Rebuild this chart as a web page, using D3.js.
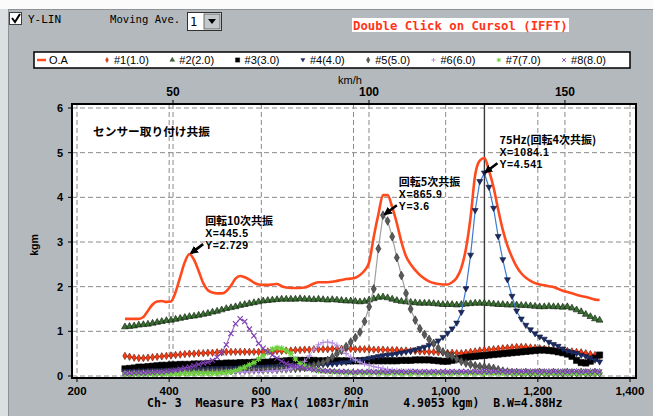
<!DOCTYPE html>
<html>
<head>
<meta charset="utf-8">
<script src="https://cdn.jsdelivr.net/npm/d3@7"></script>
<style>
body{margin:0;background:#b4b9bd;}
svg{display:block;}
text{font-family:"Liberation Sans",Arial,sans-serif;}
.jp{font-family:"Noto Sans CJK JP",sans-serif;font-weight:bold;}
.mono{font-family:"DejaVu Sans Mono",monospace;}
</style>
</head>
<body>
<svg id="chart" width="653" height="416"></svg>
<script>
const rpm = [
	304,314,324,334,344,354,364,374,384,394,
	404,414,424,434,444,454,464,474,484,494,
	504,514,524,534,544,554,564,574,584,594,
	604,614,624,634,644,654,664,674,684,694,
	704,714,724,734,744,754,764,774,784,794,
	804,814,824,834,844,854,864,874,884,894,
	904,914,924,934,944,954,964,974,984,994,
	1004,1014,1024,1034,1044,1054,1064,1074,1084,1094,
	1104,1114,1124,1134,1144,1154,1164,1174,1184,1194,
	1204,1214,1224,1234,1244,1254,1264,1274,1284,1294,
	1304,1314,1324,1334]

const oa = [
	1.28,1.28,1.28,1.28,1.32,1.46,1.60,1.67,1.68,1.66,
	1.67,1.88,2.22,2.55,2.73,2.60,2.35,2.08,1.92,1.87,
	1.85,1.85,1.90,2.02,2.18,2.24,2.21,2.16,2.09,2.05,
	2.04,2.04,2.05,2.06,2.01,1.98,1.97,1.97,1.97,1.98,
	2.02,2.07,2.10,2.10,2.10,2.11,2.13,2.15,2.17,2.18,
	2.20,2.26,2.36,2.55,3.12,3.62,4.05,4.05,3.78,3.42,
	3.00,2.68,2.50,2.37,2.26,2.18,2.12,2.08,2.06,2.05,
	2.05,2.10,2.20,2.42,2.85,3.55,4.50,4.82,4.88,4.60,
	4.22,3.72,3.27,2.92,2.66,2.45,2.30,2.20,2.13,2.08,
	2.05,2.03,2.01,1.99,1.95,1.91,1.88,1.85,1.82,1.79,
	1.77,1.74,1.71,1.70]

const ch1 = [
	0.45,0.43,0.41,0.40,0.40,0.41,0.42,0.43,0.44,0.45,
	0.46,0.47,0.48,0.49,0.50,0.50,0.51,0.51,0.52,0.52,
	0.53,0.53,0.54,0.54,0.54,0.54,0.54,0.54,0.54,0.54,
	0.54,0.55,0.55,0.56,0.56,0.57,0.57,0.58,0.58,0.59,
	0.59,0.60,0.60,0.60,0.60,0.61,0.61,0.61,0.61,0.61,
	0.60,0.60,0.60,0.60,0.59,0.59,0.59,0.58,0.58,0.58,
	0.57,0.57,0.56,0.56,0.55,0.55,0.54,0.54,0.53,0.53,
	0.52,0.52,0.51,0.51,0.52,0.54,0.55,0.57,0.58,0.59,
	0.60,0.61,0.62,0.63,0.64,0.65,0.65,0.65,0.64,0.63,
	0.62,0.61,0.59,0.58,0.57,0.57,0.56,0.55,0.54,0.53,
	0.51,0.49,0.47,0.45]

const ch2 = [
	1.10,1.11,1.12,1.14,1.15,1.16,1.18,1.20,1.22,1.24,
	1.25,1.27,1.29,1.31,1.33,1.34,1.36,1.38,1.40,1.43,
	1.45,1.48,1.51,1.53,1.55,1.58,1.60,1.62,1.64,1.66,
	1.68,1.69,1.70,1.71,1.72,1.72,1.72,1.72,1.73,1.72,
	1.72,1.71,1.72,1.71,1.70,1.71,1.70,1.69,1.68,1.68,
	1.67,1.66,1.67,1.70,1.73,1.76,1.77,1.75,1.72,1.69,
	1.67,1.66,1.65,1.64,1.63,1.63,1.63,1.62,1.61,1.60,
	1.60,1.60,1.59,1.60,1.61,1.62,1.63,1.63,1.63,1.62,
	1.61,1.60,1.60,1.59,1.59,1.59,1.58,1.58,1.57,1.56,
	1.55,1.55,1.56,1.55,1.55,1.54,1.55,1.52,1.48,1.44,
	1.38,1.33,1.28,1.25]

const ch3 = [
	0.16,0.17,0.18,0.20,0.20,0.21,0.22,0.23,0.24,0.24,
	0.25,0.25,0.26,0.26,0.26,0.27,0.27,0.27,0.28,0.28,
	0.28,0.28,0.29,0.29,0.29,0.30,0.30,0.30,0.31,0.31,
	0.31,0.31,0.32,0.33,0.33,0.34,0.35,0.35,0.35,0.35,
	0.35,0.35,0.34,0.34,0.34,0.34,0.34,0.34,0.34,0.34,
	0.34,0.34,0.34,0.34,0.34,0.34,0.34,0.34,0.34,0.34,
	0.35,0.35,0.35,0.36,0.36,0.36,0.36,0.35,0.34,0.33,
	0.33,0.35,0.38,0.40,0.42,0.43,0.44,0.45,0.46,0.47,
	0.48,0.49,0.50,0.51,0.52,0.53,0.54,0.55,0.56,0.57,
	0.58,0.58,0.57,0.56,0.54,0.52,0.49,0.44,0.35,0.30,
	0.29,0.33,0.40,0.47]

const ch4 = [
	0.10,0.10,0.10,0.11,0.11,0.11,0.12,0.12,0.12,0.12,
	0.13,0.13,0.13,0.14,0.14,0.14,0.15,0.15,0.15,0.16,
	0.16,0.16,0.17,0.17,0.17,0.18,0.18,0.18,0.19,0.19,
	0.19,0.20,0.20,0.20,0.21,0.21,0.21,0.22,0.22,0.23,
	0.23,0.24,0.24,0.25,0.25,0.26,0.27,0.29,0.30,0.32,
	0.34,0.35,0.37,0.39,0.41,0.43,0.45,0.46,0.47,0.49,
	0.51,0.53,0.55,0.58,0.61,0.64,0.68,0.72,0.78,0.86,
	0.95,1.05,1.18,1.42,1.95,2.70,3.70,4.35,4.54,4.22,
	3.75,3.12,2.60,2.15,1.78,1.45,1.27,1.13,1.03,0.94,
	0.87,0.82,0.75,0.70,0.66,0.60,0.55,0.52,0.50,0.46,
	0.43,0.40,0.35,0.31]

const ch5 = [
	0.06,0.06,0.07,0.07,0.07,0.08,0.08,0.08,0.08,0.09,
	0.09,0.09,0.09,0.10,0.10,0.10,0.10,0.11,0.11,0.11,
	0.11,0.12,0.12,0.12,0.12,0.13,0.13,0.13,0.14,0.14,
	0.14,0.15,0.15,0.15,0.16,0.16,0.17,0.17,0.18,0.19,
	0.21,0.24,0.27,0.30,0.35,0.42,0.50,0.57,0.66,0.76,
	0.86,0.98,1.22,1.55,1.95,2.85,3.60,3.47,3.12,2.65,
	2.25,1.85,1.50,1.25,1.06,0.93,0.82,0.73,0.62,0.54,
	0.48,0.44,0.38,0.33,0.29,0.26,0.23,0.21,0.20,0.19,
	0.17,0.14,0.11,0.09,0.08,0.08,0.07,0.08,0.07,0.07,
	0.08,0.07,0.07,0.08,0.07,0.07,0.08,0.07,0.07,0.08,
	0.07,0.07,0.08,0.07]

const ch6 = [
	0.05,0.05,0.05,0.05,0.06,0.05,0.06,0.06,0.06,0.06,
	0.06,0.07,0.06,0.07,0.07,0.07,0.07,0.08,0.07,0.08,
	0.08,0.08,0.08,0.09,0.08,0.09,0.09,0.09,0.10,0.10,
	0.10,0.11,0.11,0.12,0.13,0.14,0.16,0.19,0.24,0.33,
	0.45,0.60,0.70,0.75,0.76,0.74,0.69,0.60,0.50,0.42,
	0.36,0.31,0.27,0.24,0.21,0.19,0.17,0.15,0.13,0.12,
	0.11,0.10,0.10,0.09,0.09,0.09,0.08,0.09,0.08,0.08,
	0.08,0.09,0.08,0.08,0.08,0.09,0.08,0.08,0.09,0.08,
	0.08,0.08,0.09,0.08,0.08,0.08,0.09,0.08,0.08,0.09,
	0.08,0.08,0.09,0.08,0.08,0.09,0.08,0.08,0.09,0.08,
	0.08,0.09,0.08,0.08]

const ch7 = [
	0.04,0.04,0.05,0.04,0.05,0.05,0.04,0.05,0.05,0.05,
	0.05,0.05,0.05,0.06,0.05,0.06,0.06,0.06,0.06,0.06,
	0.06,0.07,0.08,0.09,0.12,0.16,0.20,0.25,0.30,0.38,
	0.45,0.53,0.60,0.63,0.62,0.57,0.50,0.38,0.28,0.22,
	0.17,0.14,0.12,0.11,0.10,0.09,0.09,0.08,0.08,0.08,
	0.07,0.08,0.07,0.07,0.08,0.07,0.07,0.06,0.07,0.07,
	0.06,0.07,0.06,0.07,0.07,0.06,0.07,0.06,0.07,0.06,
	0.07,0.06,0.07,0.07,0.06,0.07,0.06,0.07,0.06,0.07,
	0.06,0.07,0.06,0.07,0.07,0.06,0.07,0.06,0.07,0.06,
	0.07,0.06,0.07,0.06,0.07,0.07,0.06,0.07,0.06,0.07,
	0.06,0.07,0.06,0.07]

const ch8 = [
	0.06,0.06,0.07,0.07,0.07,0.08,0.08,0.09,0.09,0.10,
	0.11,0.13,0.15,0.18,0.20,0.23,0.26,0.29,0.31,0.35,
	0.42,0.52,0.70,0.95,1.17,1.28,1.22,1.05,0.90,0.73,
	0.62,0.54,0.47,0.40,0.33,0.28,0.24,0.21,0.20,0.18,
	0.16,0.14,0.13,0.12,0.11,0.11,0.10,0.10,0.10,0.09,
	0.09,0.10,0.09,0.10,0.09,0.09,0.10,0.09,0.10,0.09,
	0.10,0.09,0.10,0.10,0.09,0.10,0.09,0.10,0.09,0.10,
	0.09,0.10,0.09,0.10,0.10,0.09,0.10,0.09,0.10,0.09,
	0.10,0.09,0.10,0.09,0.10,0.09,0.10,0.10,0.09,0.10,
	0.09,0.10,0.09,0.10,0.09,0.10,0.09,0.10,0.10,0.09,
	0.10,0.09,0.10,0.09]

const rpmTicks = [200, 400, 600, 800, 1000, 1200, 1400]
const kmhTicks = [50, 100, 150]
const yTicks = [0, 1, 2, 3, 4, 5, 6]
const legendNames = ["O.A", "#1(1.0)", "#2(2.0)", "#3(3.0)", "#4(4.0)", "#5(5.0)", "#6(6.0)", "#7(7.0)", "#8(8.0)"]

const cursorRpm = 1084.1
const notes = [
	{x: 445.5, y: 2.729, lines: ["回転10次共振", "X=445.5", "Y=2.729"]},
	{x: 865.9, y: 3.6, lines: ["回転5次共振", "X=865.9", "Y=3.6"]},
	{x: 1084.1, y: 4.541, lines: ["75Hz(回転4次共振)", "X=1084.1", "Y=4.541"]}
]

const series = [
	{values: oa, line: "#ff4a1e", lw: 2.6},
	{values: ch1, line: "#c8401c", lw: 1, mk: "diamond", fill: "#ff3a10", stroke: "#5a1808", size: 16},
	{values: ch2, line: "#2e6a2a", lw: 1, mk: "triangle", fill: "#3a6e32", stroke: "#0c1a0a", size: 20},
	{values: ch3, line: "#000", lw: 1, mk: "square", fill: "#000", stroke: "#000", size: 38},
	{values: ch4, line: "#3c7ad2", lw: 1.2, mk: "tridown", fill: "#1c2a66", stroke: "#101838", size: 20},
	{values: ch5, line: "#a0a0a0", lw: 1.2, mk: "diamond", fill: "#5a5a5a", stroke: "#2a2a2a", size: 22},
	{values: ch6, line: "#c09ce4", lw: 1, mk: "plus", stroke: "#b48ee0"},
	{values: ch7, line: "#86d850", lw: 1, mk: "star", stroke: "#6cd03c"},
	{values: ch8, line: "#9050c0", lw: 1, mk: "x", stroke: "#7a3cb0"}
]

const svg = d3.select("#chart")

const x = d3.scaleLinear().domain([200, 1400]).range([77, 630])
const kmh = d3.scaleLinear().domain([25.5, 166.6]).range([77, 630])
const y = d3.scaleLinear().domain([0, 6]).range([376, 108])

// window chrome
svg.append("rect").attr("width", 653).attr("height", 416).attr("fill", "#dcdfe2")
svg.append("rect").attr("x", 0).attr("y", 0).attr("width", 653).attr("height", 9).attr("fill", "#fbfbfb")
svg.append("rect").attr("x", 8).attr("y", 9).attr("width", 645).attr("height", 407).attr("fill", "#b4b9bd")
svg.append("line").attr("x1", 8).attr("x2", 653).attr("y1", 9.5).attr("y2", 9.5).attr("stroke", "#8e9296")
svg.append("line").attr("x1", 8.5).attr("x2", 8.5).attr("y1", 9).attr("y2", 416).attr("stroke", "#8e9296")

// checkbox
svg.append("rect").attr("x", 9.5).attr("y", 12.5).attr("width", 12).attr("height", 12)
	.attr("fill", "#fff").attr("stroke", "#404040")
svg.append("path").attr("d", "M12,18 L15,22 L20,14").attr("fill", "none")
	.attr("stroke", "#000").attr("stroke-width", 2)
svg.append("text").attr("class", "mono").attr("x", 28).attr("y", 23).attr("font-size", 11).text("Y-LIN")
svg.append("text").attr("class", "mono").attr("x", 110).attr("y", 23).attr("font-size", 10.6).text("Moving Ave.")

// dropdown
svg.append("rect").attr("x", 187.5).attr("y", 12.5).attr("width", 34).attr("height", 18)
	.attr("fill", "#fff").attr("stroke", "#303030")
svg.append("text").attr("class", "mono").attr("x", 190).attr("y", 26).attr("font-size", 12).text("1")
svg.append("rect").attr("x", 204).attr("y", 14).attr("width", 16).attr("height", 15).attr("fill", "#c4c8cc")
	.attr("stroke", "#505050").attr("stroke-width", 0.8)
svg.append("path").attr("d", "M208,19 L216,19 L212,24 Z").attr("fill", "#000")

// title
svg.append("rect").attr("x", 352).attr("y", 18).attr("width", 217).attr("height", 14).attr("fill", "#fff")
svg.append("text").attr("class", "mono").attr("x", 353).attr("y", 29.5)
	.attr("font-size", 12.3).attr("font-weight", "bold").attr("fill", "#ff3418")
	.text("Double Click on Cursol (IFFT)")

// legend
const legend = svg.append("g")
legend.append("rect").attr("x", 34).attr("y", 52).attr("width", 596).attr("height", 16)
	.attr("fill", "#fff").attr("stroke", "#000").attr("stroke-width", 1.5)

function markPath(s) {
	if (s.mk === "diamond") return d3.symbol(d3.symbolDiamond, s.size)()
	if (s.mk === "triangle") return d3.symbol(d3.symbolTriangle, s.size)()
	if (s.mk === "square") return d3.symbol(d3.symbolSquare, s.size)()
	if (s.mk === "tridown") return "M-3,-2.2 L3,-2.2 L0,3 Z"
	if (s.mk === "plus") return "M-3,0H3M0,-3V3"
	if (s.mk === "x") return "M-2.6,-2.6L2.6,2.6M-2.6,2.6L2.6,-2.6"
	if (s.mk === "star") return "M-3,0H3M0,-3V3M-2.2,-2.2L2.2,2.2M-2.2,2.2L2.2,-2.2"
	return null
}
const lineMark = s => ["plus", "x", "star"].includes(s.mk)

series.forEach((s, i) => {
	const lx = i === 0 ? 38 : 107 + (i - 1) * 65.3
	if (i === 0) {
		legend.append("line").attr("x1", lx - 1).attr("x2", lx + 8).attr("y1", 60).attr("y2", 60)
			.attr("stroke", s.line).attr("stroke-width", 2.5)
	} else {
		legend.append("path").attr("transform", `translate(${lx},60) scale(0.7)`).attr("d", markPath(s))
			.attr("fill", lineMark(s) ? "none" : s.fill)
			.attr("stroke", s.stroke).attr("stroke-width", lineMark(s) ? 1.4 : 0.5)
	}
	legend.append("text").attr("x", i === 0 ? lx + 11 : lx + 7).attr("y", 64).attr("font-size", 11)
		.text(legendNames[i])
})

// plot area
svg.append("rect").attr("x", 72).attr("y", 104).attr("width", 564).attr("height", 274).attr("fill", "#fff")

const grid = svg.append("g").attr("stroke", "#8a8a8a").attr("stroke-dasharray", "5,3")
grid.selectAll(".gy").data(yTicks).join("line")
	.attr("x1", 72).attr("x2", 636).attr("y1", d => y(d)).attr("y2", d => y(d))
grid.selectAll(".gx").data(rpmTicks).join("line")
	.attr("x1", d => x(d)).attr("x2", d => x(d)).attr("y1", 104).attr("y2", 378)
grid.selectAll(".gk").data(kmhTicks).join("line")
	.attr("x1", d => kmh(d)).attr("x2", d => kmh(d)).attr("y1", 104).attr("y2", 378)

// cursor
svg.append("line").attr("x1", x(cursorRpm)).attr("x2", x(cursorRpm)).attr("y1", 104).attr("y2", 378)
	.attr("stroke", "#3a3a3a").attr("stroke-width", 1.4)

const plot = svg.append("g")
series.forEach((s, i) => {
	const pts = rpm.map((r, j) => [r, s.values[j]])
	const line = d3.line().x(d => x(d[0])).y(d => y(d[1]))
	if (i === 0) line.curve(d3.curveMonotoneX)
	plot.append("path").datum(pts).attr("d", line).attr("fill", "none")
		.attr("stroke", s.line).attr("stroke-width", s.lw).attr("stroke-linejoin", "round")
	if (s.mk) {
		const p = markPath(s)
		plot.append("g").selectAll("path").data(pts).join("path")
			.attr("transform", d => `translate(${x(d[0])},${y(d[1])})`)
			.attr("d", p)
			.attr("fill", lineMark(s) ? "none" : s.fill)
			.attr("stroke", s.stroke)
			.attr("stroke-width", lineMark(s) ? 1.1 : 0.6)
	}
})

// frame
svg.append("rect").attr("x", 72).attr("y", 104).attr("width", 564).attr("height", 274)
	.attr("fill", "none").attr("stroke", "#000").attr("stroke-width", 2)

// axes ticks and labels
const axes = svg.append("g").attr("font-weight", "bold")
axes.selectAll(".xt").data(rpmTicks).join("text")
	.attr("x", d => x(d)).attr("y", 395).attr("text-anchor", "middle").attr("font-size", 11.5)
	.text(d => d3.format(",")(d))
axes.selectAll(".xtick").data(rpmTicks).join("line")
	.attr("x1", d => x(d)).attr("x2", d => x(d)).attr("y1", 378).attr("y2", 382).attr("stroke", "#000")
axes.selectAll(".kt").data(kmhTicks).join("text")
	.attr("x", d => kmh(d)).attr("y", 96).attr("text-anchor", "middle").attr("font-size", 12)
	.text(d => d)
axes.selectAll(".ktick").data(kmhTicks).join("line")
	.attr("x1", d => kmh(d)).attr("x2", d => kmh(d)).attr("y1", 100).attr("y2", 104).attr("stroke", "#000")
axes.selectAll(".yt").data(yTicks).join("text")
	.attr("x", 63).attr("y", d => y(d) + 4).attr("text-anchor", "end").attr("font-size", 11)
	.text(d => d)
axes.selectAll(".ytick").data(yTicks).join("line")
	.attr("x1", 68).attr("x2", 72).attr("y1", d => y(d)).attr("y2", d => y(d)).attr("stroke", "#000")
svg.append("text").attr("x", 350).attr("y", 84).attr("text-anchor", "middle").attr("font-size", 11)
	.text("km/h")
svg.append("text").attr("transform", "translate(38,245) rotate(-90)").attr("text-anchor", "middle")
	.attr("font-size", 10.5).attr("font-weight", "bold").text("kgm")

svg.append("text").attr("class", "mono").attr("x", 147).attr("y", 407).attr("font-size", 11.5)
	.attr("font-weight", "bold").attr("xml:space", "preserve").style("white-space", "pre")
	.text("Ch- 3  Measure P3 Max( 1083r/min     4.9053 kgm)  B.W=4.88Hz")

// annotations
svg.append("text").attr("class", "jp").attr("x", 93).attr("y", 136).attr("font-size", 11.7)
	.text("センサー取り付け共振")

svg.append("defs").append("marker")
	.attr("id", "arrow")
	.attr("viewBox", "0 0 10 10")
	.attr("refX", 8)
	.attr("refY", 5)
	.attr("markerWidth", 3.2)
	.attr("markerHeight", 3.2)
	.attr("orient", "auto")
	.append("path")
	.attr("d", "M0,0 L10,5 L0,10 Z")
	.attr("fill", "#000")

notes.forEach(n => {
	const px = x(n.x), py = y(n.y)
	svg.append("line").attr("x1", px + 13).attr("y1", py - 10).attr("x2", px + 1).attr("y2", py - 1)
		.attr("stroke", "#000").attr("stroke-width", 2.6).attr("marker-end", "url(#arrow)")
	n.lines.forEach((line, k) => {
		svg.append("text").attr("class", k ? null : "jp")
			.attr("x", px + 15).attr("y", k ? py - 17 + (k - 1) * 11.5 : py - 29)
			.attr("font-size", k ? 10.5 : 11).attr("font-weight", "bold")
			.attr("letter-spacing", k ? 0.6 : 0).text(line)
	})
})
</script>
</body>
</html>
